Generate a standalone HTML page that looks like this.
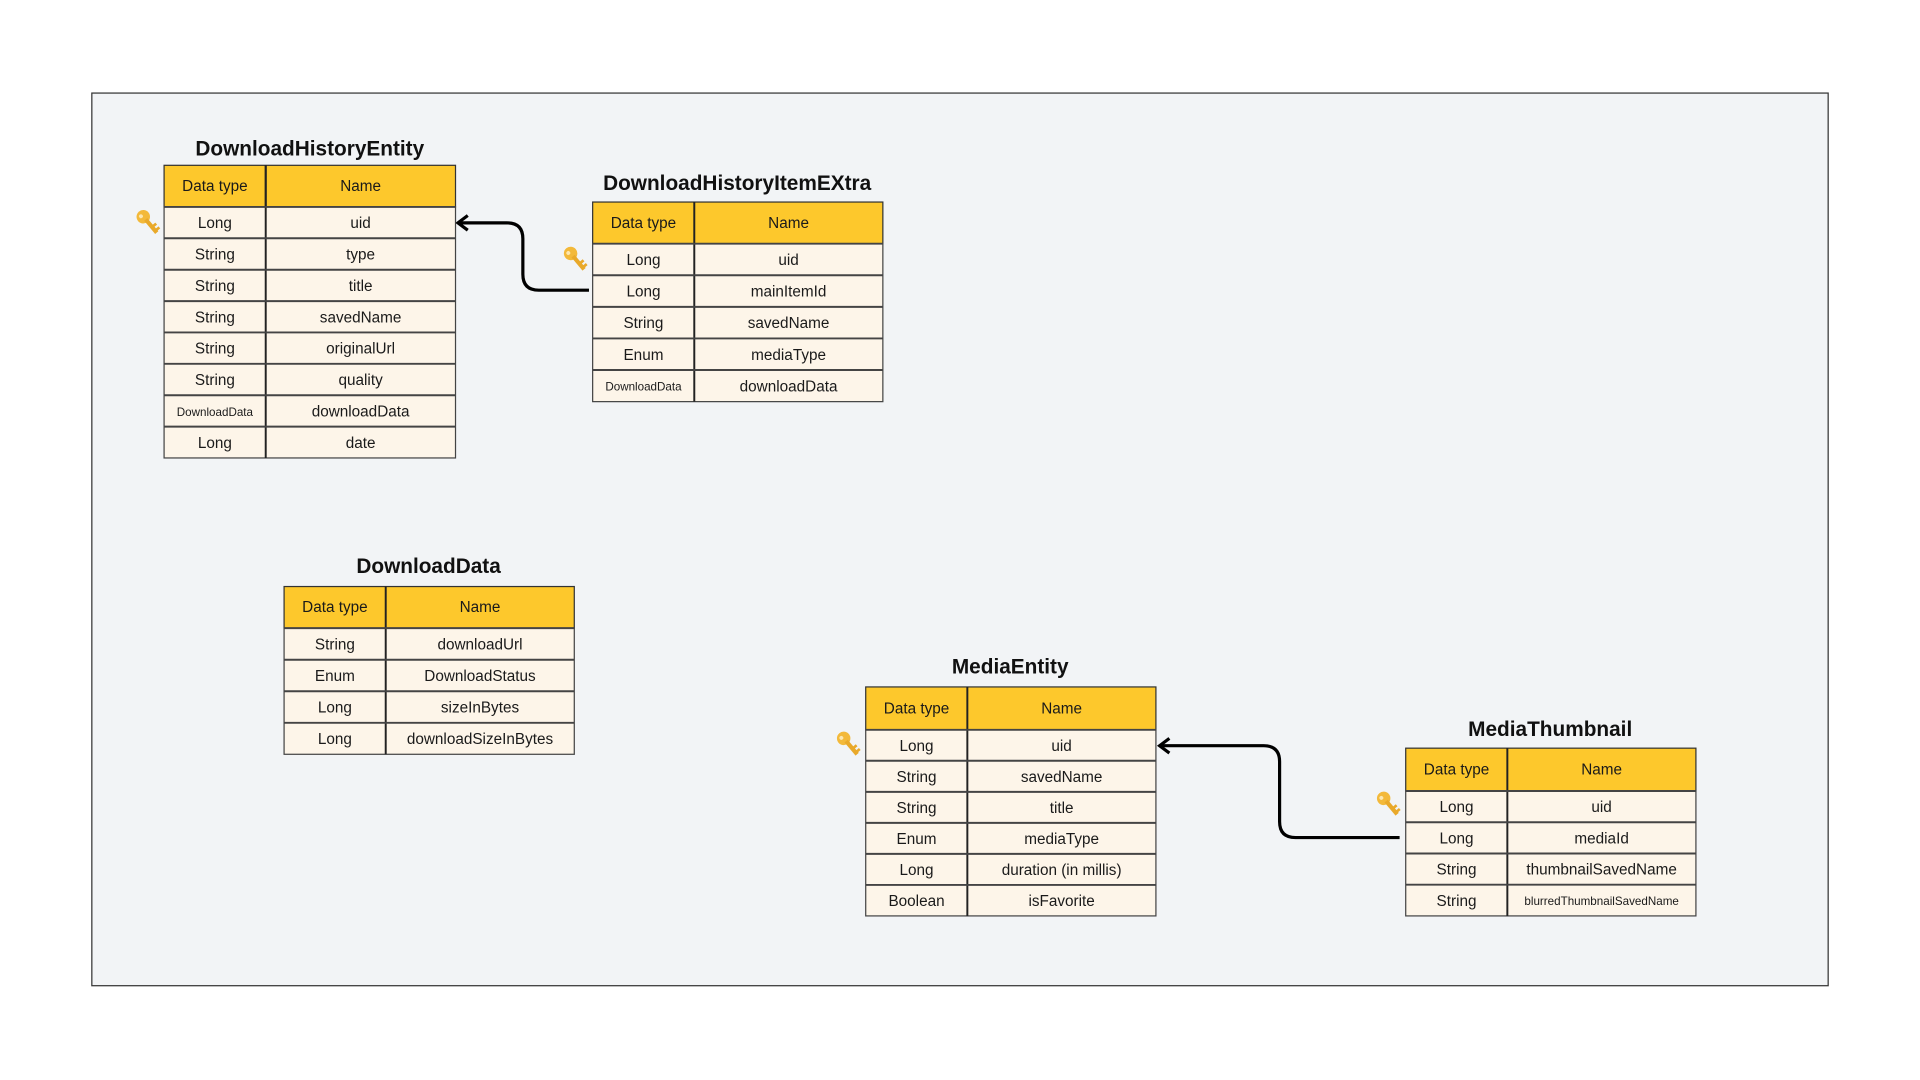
<!DOCTYPE html>
<html><head><meta charset="utf-8"><style>
html,body{margin:0;padding:0;background:#fff;width:1920px;height:1080px;overflow:hidden}
svg{display:block}
text{font-family:"Liberation Sans","DejaVu Sans",sans-serif;fill:#1a1a1a}
.t{font-size:17px;font-weight:bold;text-anchor:middle;fill:#111}
.c{font-size:12.5px;text-anchor:middle}
.s{font-size:9.5px;text-anchor:middle}
.h{fill:#fdc82c;stroke:#333;stroke-width:1}
.r{fill:#fdf5e9;stroke:#444;stroke-width:1}
.d{stroke:#222;stroke-width:1.6}
.ln{fill:none;stroke:#000;stroke-width:2.6}
</style></head><body>
<svg width="1920" height="1080" viewBox="0 0 1568 882" xmlns="http://www.w3.org/2000/svg">
<defs>
<g id="key">
<g transform="rotate(-40)">
<circle cx="0" cy="0" r="5.5" fill="#f3b93a"/>
<circle cx="-1.2" cy="-1.5" r="1.6" fill="#fde7b0"/>
<rect x="-1.6" y="3" width="3.4" height="14" fill="#e9a92a"/>
<rect x="1.5" y="10" width="3" height="2.2" fill="#e9a92a"/>
<rect x="1.5" y="14" width="3" height="2.2" fill="#e9a92a"/>
</g>
</g>
</defs>
<rect x="0" y="0" width="1568" height="882" fill="#fff"/>
<rect x="75" y="76" width="1418" height="729" fill="#f2f4f6" stroke="#333" stroke-width="1"/>

<!-- connectors -->
<path class="ln" d="M481,237 H440 Q427,237 427,224 V195 Q427,182 414,182 H375"/>
<path class="ln" d="M382,176 L374,182 L382,188"/>
<path class="ln" d="M1143,684 H1058 Q1045,684 1045,671 V622 Q1045,609 1032,609 H947"/>
<path class="ln" d="M955,603 L947,609 L955,615"/>

<!-- Table 1 -->
<text class="t" x="253" y="127">DownloadHistoryEntity</text>
<rect class="h" x="134" y="135" width="238" height="34"/>
<line class="d" x1="217" y1="135" x2="217" y2="374"/>
<text class="c" x="175.5" y="156">Data type</text><text class="c" x="294.5" y="156">Name</text>
<rect class="r" x="134" y="169" width="238" height="205"/>
<line class="d" x1="217" y1="135" x2="217" y2="374"/>
<g stroke="#444" stroke-width="1.6">
<line x1="134" y1="169" x2="372" y2="169"/><line x1="134" y1="194.6" x2="372" y2="194.6"/><line x1="134" y1="220.3" x2="372" y2="220.3"/><line x1="134" y1="245.9" x2="372" y2="245.9"/><line x1="134" y1="271.5" x2="372" y2="271.5"/><line x1="134" y1="297.1" x2="372" y2="297.1"/><line x1="134" y1="322.8" x2="372" y2="322.8"/><line x1="134" y1="348.4" x2="372" y2="348.4"/>
</g>
<text class="c" x="175.5" y="186.3">Long</text><text class="c" x="294.5" y="186.3">uid</text>
<text class="c" x="175.5" y="212">String</text><text class="c" x="294.5" y="212">type</text>
<text class="c" x="175.5" y="237.6">String</text><text class="c" x="294.5" y="237.6">title</text>
<text class="c" x="175.5" y="263.2">String</text><text class="c" x="294.5" y="263.2">savedName</text>
<text class="c" x="175.5" y="288.8">String</text><text class="c" x="294.5" y="288.8">originalUrl</text>
<text class="c" x="175.5" y="314.5">String</text><text class="c" x="294.5" y="314.5">quality</text>
<text class="s" x="175.5" y="339.6">DownloadData</text><text class="c" x="294.5" y="340.1">downloadData</text>
<text class="c" x="175.5" y="365.7">Long</text><text class="c" x="294.5" y="365.7">date</text>
<use href="#key" x="117" y="177"/>

<!-- Table 2 -->
<text class="t" x="602" y="155">DownloadHistoryItemEXtra</text>
<rect class="h" x="484" y="165" width="237" height="34"/>
<text class="c" x="525.5" y="186">Data type</text><text class="c" x="644" y="186">Name</text>
<rect class="r" x="484" y="199" width="237" height="129"/>
<line class="d" x1="567" y1="165" x2="567" y2="328"/>
<g stroke="#444" stroke-width="1.6">
<line x1="484" y1="199" x2="721" y2="199"/><line x1="484" y1="224.8" x2="721" y2="224.8"/><line x1="484" y1="250.6" x2="721" y2="250.6"/><line x1="484" y1="276.4" x2="721" y2="276.4"/><line x1="484" y1="302.2" x2="721" y2="302.2"/>
</g>
<text class="c" x="525.5" y="216.4">Long</text><text class="c" x="644" y="216.4">uid</text>
<text class="c" x="525.5" y="242.2">Long</text><text class="c" x="644" y="242.2">mainItemId</text>
<text class="c" x="525.5" y="268">String</text><text class="c" x="644" y="268">savedName</text>
<text class="c" x="525.5" y="293.8">Enum</text><text class="c" x="644" y="293.8">mediaType</text>
<text class="s" x="525.5" y="319">DownloadData</text><text class="c" x="644" y="319.6">downloadData</text>
<use href="#key" x="466" y="207"/>

<!-- DownloadData -->
<text class="t" x="350" y="468">DownloadData</text>
<rect class="h" x="232" y="479" width="237" height="34"/>
<text class="c" x="273.5" y="500">Data type</text><text class="c" x="392" y="500">Name</text>
<rect class="r" x="232" y="513" width="237" height="103"/>
<line class="d" x1="315" y1="479" x2="315" y2="616"/>
<g stroke="#444" stroke-width="1.6">
<line x1="232" y1="513" x2="469" y2="513"/><line x1="232" y1="538.8" x2="469" y2="538.8"/><line x1="232" y1="564.5" x2="469" y2="564.5"/><line x1="232" y1="590.3" x2="469" y2="590.3"/>
</g>
<text class="c" x="273.5" y="530.4">String</text><text class="c" x="392" y="530.4">downloadUrl</text>
<text class="c" x="273.5" y="556.1">Enum</text><text class="c" x="392" y="556.1">DownloadStatus</text>
<text class="c" x="273.5" y="581.9">Long</text><text class="c" x="392" y="581.9">sizeInBytes</text>
<text class="c" x="273.5" y="607.6">Long</text><text class="c" x="392" y="607.6">downloadSizeInBytes</text>

<!-- MediaEntity -->
<text class="t" x="825" y="550">MediaEntity</text>
<rect class="h" x="707" y="561" width="237" height="35"/>
<text class="c" x="748.5" y="582.5">Data type</text><text class="c" x="867" y="582.5">Name</text>
<rect class="r" x="707" y="596" width="237" height="152"/>
<line class="d" x1="790" y1="561" x2="790" y2="748"/>
<g stroke="#444" stroke-width="1.6">
<line x1="707" y1="596" x2="944" y2="596"/><line x1="707" y1="621.3" x2="944" y2="621.3"/><line x1="707" y1="646.7" x2="944" y2="646.7"/><line x1="707" y1="672" x2="944" y2="672"/><line x1="707" y1="697.3" x2="944" y2="697.3"/><line x1="707" y1="722.7" x2="944" y2="722.7"/>
</g>
<text class="c" x="748.5" y="613.2">Long</text><text class="c" x="867" y="613.2">uid</text>
<text class="c" x="748.5" y="638.5">String</text><text class="c" x="867" y="638.5">savedName</text>
<text class="c" x="748.5" y="663.9">String</text><text class="c" x="867" y="663.9">title</text>
<text class="c" x="748.5" y="689.2">Enum</text><text class="c" x="867" y="689.2">mediaType</text>
<text class="c" x="748.5" y="714.5">Long</text><text class="c" x="867" y="714.5">duration (in millis)</text>
<text class="c" x="748.5" y="739.9">Boolean</text><text class="c" x="867" y="739.9">isFavorite</text>
<use href="#key" x="689" y="603"/>

<!-- MediaThumbnail -->
<text class="t" x="1266" y="601">MediaThumbnail</text>
<rect class="h" x="1148" y="611" width="237" height="35"/>
<text class="c" x="1189.5" y="632.5">Data type</text><text class="c" x="1308" y="632.5">Name</text>
<rect class="r" x="1148" y="646" width="237" height="102"/>
<line class="d" x1="1231" y1="611" x2="1231" y2="748"/>
<g stroke="#444" stroke-width="1.6">
<line x1="1148" y1="646" x2="1385" y2="646"/><line x1="1148" y1="671.5" x2="1385" y2="671.5"/><line x1="1148" y1="697" x2="1385" y2="697"/><line x1="1148" y1="722.5" x2="1385" y2="722.5"/>
</g>
<text class="c" x="1189.5" y="663.2">Long</text><text class="c" x="1308" y="663.2">uid</text>
<text class="c" x="1189.5" y="688.7">Long</text><text class="c" x="1308" y="688.7">mediaId</text>
<text class="c" x="1189.5" y="714.2">String</text><text class="c" x="1308" y="714.2">thumbnailSavedName</text>
<text class="c" x="1189.5" y="739.7">String</text><text class="s" x="1308" y="739.2">blurredThumbnailSavedName</text>
<use href="#key" x="1130" y="652"/>
</svg>
</body></html>
